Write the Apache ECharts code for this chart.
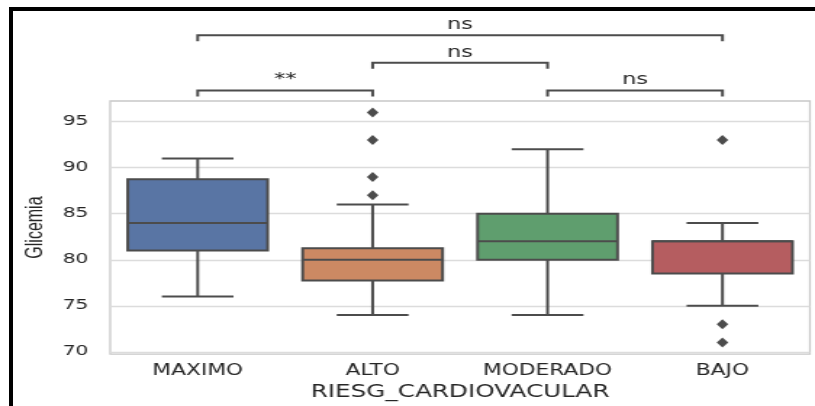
<!DOCTYPE html>
<html>
<head>
<meta charset="utf-8">
<script src="https://cdn.jsdelivr.net/npm/echarts@6/dist/echarts.min.js"></script>
<style>
  html, body { margin: 0; padding: 0; background: #fff; overflow: hidden; }
  #main {
    position: absolute; left: 0; top: 0;
    width: 562px; height: 406px;
    transform: scaleX(1.4502); transform-origin: 0 0;
  }
  #frame {
    position: absolute; left: 9px; top: 7px; right: 0; bottom: 0;
    border-left: 4px solid #000; border-top: 4px solid #000;
    pointer-events: none;
  }
</style>
</head>
<body>
<div id="main"></div>
<div id="frame"></div>
<script>
  // datos del boxplot
  var categories = ['MAXIMO', 'ALTO', 'MODERADO', 'BAJO']
  var whiskerLow = [76, 74, 74, 75]
  var q1 = [81, 77.75, 80, 78.5]
  var median = [84, 80, 82, 82]
  var q3 = [88.75, 81.25, 85, 82]
  var whiskerHigh = [91, 86, 92, 84]
  var outlierCat = ['ALTO', 'ALTO', 'ALTO', 'ALTO', 'BAJO', 'BAJO', 'BAJO']
  var outlierVal = [87, 89, 93, 96, 93, 73, 71]
  var yTicks = [70, 75, 80, 85, 90, 95]

  // anotaciones estadisticas
  var bracketFrom = ['MAXIMO', 'ALTO', 'MODERADO', 'MAXIMO']
  var bracketTo = ['ALTO', 'MODERADO', 'BAJO', 'BAJO']
  var bracketLevel = [98.4, 101.4, 98.4, 104.4]
  var bracketLabel = ['**', 'ns', 'ns', 'ns']
  var tipDrop = 0.65

  var boxColors = ['#5975a4', '#cc8963', '#5f9e6e', '#b55d60']
  var edgeColor = '#4c4c4c'
  var textColor = '#262626'

  var boxData = categories.map(function (c, i) {
    return [i, whiskerLow[i], q1[i], median[i], q3[i], whiskerHigh[i]]
  })
  var outlierData = outlierCat.map(function (c, i) {
    return [categories.indexOf(c), outlierVal[i]]
  })
  var bracketData = bracketFrom.map(function (c, i) {
    return [categories.indexOf(c), bracketLevel[i], categories.indexOf(bracketTo[i])]
  })

  function renderBox(params, api) {
    var x = api.value(0)
    var pLow = api.coord([x, api.value(1)])
    var pQ1 = api.coord([x, api.value(2)])
    var pMed = api.coord([x, api.value(3)])
    var pQ3 = api.coord([x, api.value(4)])
    var pHigh = api.coord([x, api.value(5)])
    var band = api.size([1, 0])[0]
    var half = band * 0.4
    var cap = band * 0.205
    var cx = pMed[0]
    var st = { stroke: edgeColor, lineWidth: 2 }
    return {
      type: 'group',
      children: [
        { type: 'line', shape: { x1: cx, y1: pLow[1], x2: cx, y2: pQ1[1] }, style: st },
        { type: 'line', shape: { x1: cx, y1: pQ3[1], x2: cx, y2: pHigh[1] }, style: st },
        { type: 'line', shape: { x1: cx - cap, y1: pLow[1], x2: cx + cap, y2: pLow[1] }, style: st },
        { type: 'line', shape: { x1: cx - cap, y1: pHigh[1], x2: cx + cap, y2: pHigh[1] }, style: st },
        {
          type: 'rect',
          shape: { x: cx - half, y: pQ3[1], width: half * 2, height: pQ1[1] - pQ3[1] },
          style: { fill: boxColors[params.dataIndex], stroke: edgeColor, lineWidth: 2 }
        },
        { type: 'line', shape: { x1: cx - half, y1: pMed[1], x2: cx + half, y2: pMed[1] }, style: st }
      ]
    }
  }

  function renderBracket(params, api) {
    var lvl = api.value(1)
    var a = api.coord([api.value(0), lvl])
    var b = api.coord([api.value(2), lvl])
    var t = api.coord([api.value(0), lvl - tipDrop])
    return {
      type: 'group',
      children: [
        {
          type: 'polyline',
          shape: { points: [[a[0], t[1]], [a[0], a[1]], [b[0], b[1]], [b[0], t[1]]] },
          style: { stroke: edgeColor, lineWidth: 2, fill: null }
        },
        {
          type: 'text',
          style: {
            text: bracketLabel[params.dataIndex],
            x: (a[0] + b[0]) / 2, y: a[1] - 2,
            align: 'center', verticalAlign: 'bottom',
            fontFamily: 'DejaVu Sans', fontSize: 15.5, fill: textColor
          }
        }
      ]
    }
  }

  var chart = echarts.init(document.getElementById('main'))
  chart.setOption({
    animation: false,
    grid: {
      left: 76, right: 3.5, top: 101, bottom: 44,
      show: true, borderColor: '#c8c8c8', borderWidth: 1.3
    },
    xAxis: {
      type: 'category',
      data: categories,
      boundaryGap: true,
      axisLine: { show: false },
      axisTick: { show: false },
      axisLabel: { margin: 10, fontFamily: 'DejaVu Sans', fontSize: 15, color: textColor },
      name: 'RIESG_CARDIOVACULAR',
      nameLocation: 'middle',
      nameGap: 29,
      nameTextStyle: { fontFamily: 'DejaVu Sans', fontSize: 17, color: textColor }
    },
    yAxis: {
      type: 'value',
      min: 69.75,
      max: 97.25,
      axisLine: { show: false },
      axisTick: { show: false, customValues: yTicks },
      axisLabel: { customValues: yTicks, margin: 15, fontFamily: 'DejaVu Sans', fontSize: 14, color: textColor },
      splitLine: { show: true, lineStyle: { color: '#dcdcdc', width: 1.3 } },
      name: 'Glicemia',
      nameLocation: 'middle',
      nameGap: 43,
      nameTextStyle: { fontFamily: 'Liberation Sans', fontSize: 16, color: textColor }
    },
    series: [
      { type: 'custom', renderItem: renderBox, data: boxData, z: 2 },
      {
        type: 'scatter',
        data: outlierData,
        symbol: 'diamond',
        symbolSize: [8, 10],
        itemStyle: { color: edgeColor, opacity: 1 },
        z: 3
      },
      { type: 'custom', renderItem: renderBracket, data: bracketData, clip: false, z: 4 }
    ]
  })
</script>
</body>
</html>
